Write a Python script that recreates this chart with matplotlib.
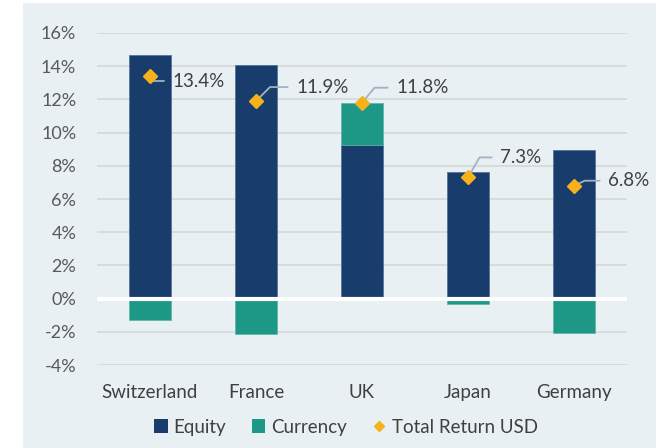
import matplotlib
matplotlib.use('Agg')
import matplotlib.pyplot as plt
from matplotlib.patches import Rectangle, Patch
from matplotlib.lines import Line2D

plt.rcParams['font.family'] = ['Lato', 'DejaVu Sans']

countries = ['Switzerland', 'France', 'UK', 'Japan', 'Germany']
equity = [14.7, 14.07, 9.25, 7.64, 8.95]
currency = [-1.27, -2.16, 2.51, -0.33, -2.06]
total_return = [13.4, 11.9, 11.8, 7.3, 6.8]
total_labels = ['13.4%', '11.9%', '11.8%', '7.3%', '6.8%']

# label offsets (pixels) and leader angle leaving the diamond
label_offsets = [(22, -5), (40, 14), (34, 15), (32, 20), (34, 5)]
leader_angles = [-90, 45, 50, 60, 25]

EQUITY_COLOR = '#183D6C'
CURRENCY_COLOR = '#1E9886'
DIAMOND_COLOR = '#F7B21B'
BG_COLOR = '#E8F0F3'
TEXT_COLOR = '#404040'
TICK_COLOR = '#595959'

fig = plt.figure(figsize=(6.6, 4.48), dpi=100)
fig.patch.set_facecolor('white')
bg = Rectangle((23 / 660, 0), (656 - 23) / 660, 445 / 448,
               transform=fig.transFigure, facecolor=BG_COLOR,
               edgecolor='none', zorder=-10)
fig.patches.append(bg)

ax = fig.add_axes([97 / 660, 83 / 448, (627 - 97) / 660, (365 - 33) / 448])
ax.set_facecolor('none')

x = list(range(len(countries)))
cur_bottom = [equity[i] if currency[i] >= 0 else 0 for i in x]

ax.bar(x, equity, width=0.4, color=EQUITY_COLOR,
       edgecolor='#4D6E94', linewidth=0.5, zorder=2)
ax.bar(x, currency, width=0.4, bottom=cur_bottom, color=CURRENCY_COLOR,
       edgecolor='#5BB3A6', linewidth=0.5, zorder=2)
ax.axhline(0, color='white', linewidth=3, zorder=3)

ax.plot(x, total_return, linestyle='none', marker='D', markersize=7.5,
        color=DIAMOND_COLOR, markeredgecolor=DIAMOND_COLOR, zorder=6)

for i in x:
    ax.annotate(total_labels[i], xy=(i, total_return[i]),
                xytext=label_offsets[i], textcoords='offset pixels',
                ha='left', va='center', fontsize=13.5, color=TEXT_COLOR,
                arrowprops=dict(arrowstyle='-', color='#A3B2C2', lw=1.3,
                                shrinkA=4, shrinkB=0,
                                connectionstyle=f'angle,angleA=0,angleB={leader_angles[i]},rad=0'),
                zorder=5)

ax.set_xlim(-0.5, 4.5)
ax.set_ylim(-4, 16)
ax.set_yticks(range(-4, 17, 2))
ax.set_yticklabels([f'{v}%' for v in range(-4, 17, 2)])
ax.set_xticks(x)
ax.set_xticklabels(countries)
ax.yaxis.grid(True, color='#D6D9DB', linewidth=1.3, zorder=1)
ax.set_axisbelow(True)
for s in ax.spines.values():
    s.set_visible(False)
ax.tick_params(axis='y', length=0, pad=15, labelsize=13, labelcolor=TICK_COLOR)
ax.tick_params(axis='x', length=0, pad=14, labelsize=13.5, labelcolor=TEXT_COLOR)

handles = [
    Patch(facecolor=EQUITY_COLOR, edgecolor='none', label='Equity'),
    Patch(facecolor=CURRENCY_COLOR, edgecolor='none', label='Currency'),
    Line2D([], [], linestyle='none', marker='D', markersize=5.5,
           color=DIAMOND_COLOR, label='Total Return USD'),
]
leg = fig.legend(handles=handles, loc='center', ncol=3, frameon=False,
                 bbox_to_anchor=(346 / 660, 1 - 427 / 448), fontsize=13.5,
                 handlelength=0.7, handleheight=0.7, handletextpad=0.3,
                 columnspacing=1.4, labelcolor=TEXT_COLOR)

fig.savefig('out.png', dpi=100, facecolor='white')
